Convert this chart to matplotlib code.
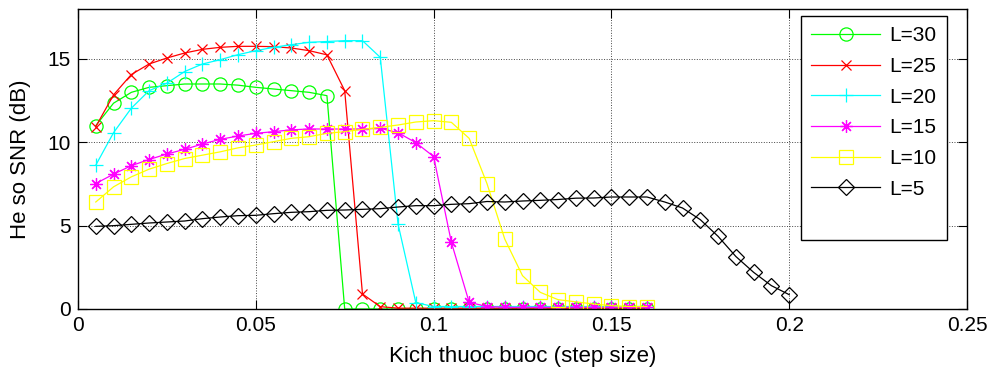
import matplotlib
matplotlib.use("Agg")
import matplotlib.pyplot as plt

plt.rcParams['font.family'] = ['Liberation Sans', 'DejaVu Sans']

step_size = [0.005, 0.010, 0.015, 0.020, 0.025, 0.030, 0.035, 0.040,
             0.045, 0.050, 0.055, 0.060, 0.065, 0.070, 0.075, 0.080,
             0.085, 0.090, 0.095, 0.100, 0.105, 0.110, 0.115, 0.120,
             0.125, 0.130, 0.135, 0.140, 0.145, 0.150, 0.155, 0.160]
step_size_L5 = step_size + [0.165, 0.170, 0.175, 0.180, 0.185, 0.190, 0.195, 0.200]

snr_L30 = [11.0, 12.35, 13.0, 13.3, 13.4, 13.5, 13.5, 13.5, 13.43, 13.3, 13.2, 13.1,
           13.0, 12.8, 0, 0, 0, 0, 0, 0, 0, 0, 0, 0, 0, 0, 0, 0, 0, 0, 0, 0]
snr_L25 = [10.94, 12.85, 14.07, 14.7, 15.06, 15.36, 15.58, 15.7, 15.76, 15.76, 15.74,
           15.66, 15.5, 15.25, 13.1, 0.9, 0.14, 0.05, 0.05, 0.05, 0.05, 0.05, 0.05,
           0.05, 0.05, 0.05, 0.05, 0.05, 0.05, 0.05, 0.05, 0.05]
snr_L20 = [8.63, 10.58, 12.05, 13.1, 13.55, 14.25, 14.7, 14.96, 15.26, 15.5, 15.7,
           15.86, 16.0, 16.05, 16.1, 16.1, 15.1, 5.1, 0.38, 0.15, 0.15, 0.15, 0.15,
           0.15, 0.15, 0.15, 0.15, 0.15, 0.15, 0.15, 0.15, 0.15]
snr_L15 = [7.53, 8.09, 8.6, 8.97, 9.3, 9.58, 9.9, 10.18, 10.38, 10.54, 10.64, 10.75,
           10.8, 10.8, 10.8, 10.8, 10.84, 10.58, 9.98, 9.15, 4.0, 0.4, 0.15, 0.1,
           0.1, 0.1, 0.1, 0.1, 0.1, 0.1, 0.1, 0.1]
snr_L10 = [6.42, 7.33, 7.93, 8.39, 8.73, 9.03, 9.23, 9.43, 9.67, 9.84, 10.04, 10.24,
           10.34, 10.54, 10.64, 10.78, 10.9, 11.04, 11.22, 11.3, 11.2, 10.24, 7.53,
           4.2, 2.0, 1.0, 0.56, 0.43, 0.3, 0.2, 0.15, 0.15]
snr_L5 = [4.96, 5.0, 5.08, 5.16, 5.22, 5.28, 5.42, 5.52, 5.6, 5.62, 5.72, 5.8, 5.84,
          5.92, 5.94, 5.98, 6.02, 6.12, 6.2, 6.2, 6.28, 6.32, 6.45, 6.42, 6.48, 6.52,
          6.57, 6.65, 6.66, 6.72, 6.72, 6.72, 6.42, 6.06, 5.36, 4.36, 3.15, 2.2,
          1.4, 0.86]

labels = ['L=30', 'L=25', 'L=20', 'L=15', 'L=10', 'L=5']
xticks = [0, 0.05, 0.1, 0.15, 0.2, 0.25]
xtick_labels = ['0', '0.05', '0.1', '0.15', '0.2', '0.25']
yticks = [0, 5, 10, 15]
ytick_labels = ['0', '5', '10', '15']

fig = plt.figure(figsize=(9.91, 3.70), dpi=100)
ax = fig.add_axes([78 / 991, 61 / 370, 889 / 991, 300 / 370])

lw = 0.9
mew = 0.9
ax.plot(step_size, snr_L30, color='#00ff00', lw=lw, marker='o', ms=9.5,
        mfc='none', mec='#00ff00', mew=mew, label=labels[0])
ax.plot(step_size, snr_L25, color='#ff0000', lw=lw, marker='x', ms=6.5,
        mec='#ff0000', mew=mew, label=labels[1])
ax.plot(step_size, snr_L20, color='#00ffff', lw=lw, marker='+', ms=10,
        mec='#00ffff', mew=mew, label=labels[2])
ax.plot(step_size, snr_L15, color='#ff00ff', lw=lw, marker=(8, 2, 0), ms=9,
        mec='#ff00ff', mew=mew, label=labels[3])
ax.plot(step_size, snr_L10, color='#ffff00', lw=lw, marker='s', ms=10,
        mfc='none', mec='#ffff00', mew=mew, label=labels[4])
ax.plot(step_size_L5, snr_L5, color='black', lw=lw, marker='D', ms=8,
        mfc='none', mec='black', mew=mew, label=labels[5])
# empty legend row (the original legend box has blank space at the bottom)
ax.plot([], [], color='none', label=' ')

ax.set_xlim(0, 0.25)
ax.set_ylim(0, 18)
ax.set_xticks(xticks)
ax.set_xticklabels(xtick_labels)
ax.set_yticks(yticks)
ax.set_yticklabels(ytick_labels)
ax.tick_params(direction='in', length=6.4, width=0.8, top=True, right=True,
               labelsize=15, pad=5)
ax.grid(True, linestyle=':', color='#444444', linewidth=0.7)
for s in ax.spines.values():
    s.set_linewidth(1.0)

ax.set_xlabel('Kich thuoc buoc (step size)', fontsize=16, labelpad=8)
ax.set_ylabel('He so SNR (dB)', fontsize=16, labelpad=12)

leg = ax.legend(loc='upper right', bbox_to_anchor=(0.9775, 0.977), fontsize=15,
                frameon=True, fancybox=False, framealpha=1, edgecolor='black',
                handlelength=3.3, handletextpad=0.45, labelspacing=0.56,
                borderpad=0.5, borderaxespad=0)
leg.get_frame().set_linewidth(1.0)

fig.savefig('out.png', dpi=100)
